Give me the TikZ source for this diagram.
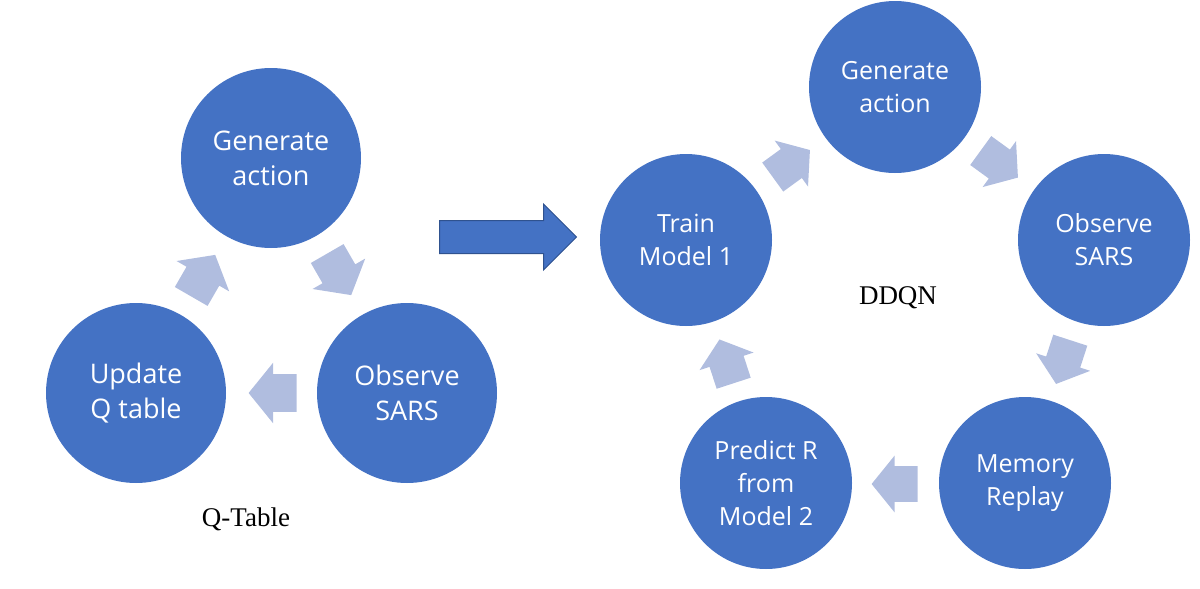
\documentclass[tikz,border=0pt]{standalone}
\usepackage{fontspec}
\setmainfont{Open Sans}
\newfontfamily\timesfont{Liberation Serif}
\usetikzlibrary{shapes.arrows}
\definecolor{cblue}{HTML}{4472C4}
\definecolor{cdark}{HTML}{2F528F}
\definecolor{clight}{HTML}{B0BDDF}
\tikzset{
  bigcirc/.style={circle, fill=cblue, draw=none, minimum size=90pt, inner sep=0pt, text=white, align=center, font=\fontsize{13.5}{17.5}\selectfont},
  smallcirc/.style={circle, fill=cblue, draw=none, minimum size=86pt, inner sep=0pt, text=white, align=center, font=\fontsize{12.5}{16.5}\selectfont},
  larrow/.style={single arrow, fill=clight, draw=none, inner xsep=0pt, inner ysep=9.25pt, minimum height=24pt, minimum width=30pt, single arrow head extend=5.75pt, single arrow tip angle=102, single arrow head indent=0pt, anchor=tail},
  rarrow/.style={single arrow, fill=clight, draw=none, inner xsep=0pt, inner ysep=8.75pt, minimum height=23pt, minimum width=28pt, single arrow head extend=5.25pt, single arrow tip angle=102, single arrow head indent=0pt, anchor=tail},
  caption/.style={font=\timesfont\fontsize{13.5}{16}\selectfont, text=black}
}
\begin{document}
\begin{tikzpicture}[x=0.5pt,y=-0.5pt]
\useasboundingbox (0,0) rectangle (1200,589);
% left cycle
\node[bigcirc] (lgen) at (271,158) {Generate\\action};
\node[bigcirc] (lobs) at (407,393) {Observe\\SARS};
\node[bigcirc] (lupd) at (136,393) {Update\\Q table};
\node[larrow, rotate=-60] (la1) at (327,253.2) {};
\node[larrow, rotate=180] (la2) at (297,393) {};
\node[larrow, rotate=60] (la3) at (191,296.8) {};
\node[caption] (qt) at (246,519) {Q-Table};
% big arrow
\node[single arrow, fill=cblue, draw=cdark, line width=0.5pt, inner xsep=0pt, inner ysep=8pt, minimum height=68.5pt, minimum width=32.5pt, single arrow head extend=8.25pt, single arrow tip angle=90, single arrow head indent=0pt, anchor=tail] (big) at (439,237) {};
% right cycle
\node[smallcirc] (rgen) at (895,87) {Generate\\action};
\node[smallcirc] (robs) at (1104,240) {Observe\\SARS};
\node[smallcirc] (rmem) at (1025,483) {Memory\\Replay};
\node[smallcirc] (rpre) at (766,483) {Predict R\\from\\Model 2};
\node[smallcirc] (rtra) at (686,240) {Train\\Model 1};
\node[rarrow, rotate=-36] (ra1) at (980.4,150.3) {};
\node[rarrow, rotate=-108] (ra2) at (1070.4,339.8) {};
\node[rarrow, rotate=180] (ra3) at (918,484) {};
\node[rarrow, rotate=108] (ra4) at (733.8,383.6) {};
\node[rarrow, rotate=36] (ra5) at (772.4,177.3) {};
\node[caption] (dd) at (898,298) {DDQN};
\end{tikzpicture}
\end{document}
